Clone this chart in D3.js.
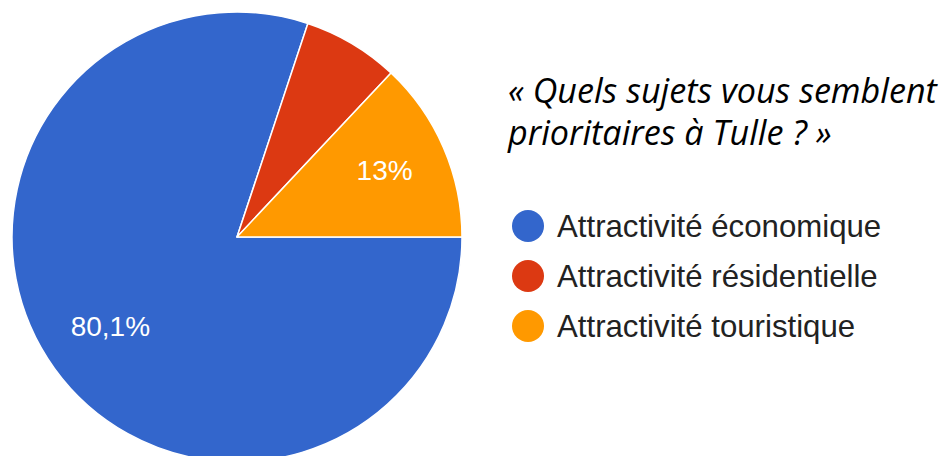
<!DOCTYPE html>
<html>
<head>
<meta charset="utf-8">
<script src="https://cdn.jsdelivr.net/npm/d3@7"></script>
<style>
  html, body { margin: 0; padding: 0; background: #fff; }
  svg { display: block; }
</style>
</head>
<body>
<svg width="946" height="456"></svg>
<script>
const categories = ['Attractivité économique', 'Attractivité résidentielle', 'Attractivité touristique'];
const shares = [80.1, 6.9, 13];
const colours = ['#3366cc', '#dc3912', '#ff9900'];
const titleLines = ['« Quels sujets vous semblent', 'prioritaires à Tulle ? »'];

const svg = d3.select('svg');

const CX = 237;
const CY = 237;
const RADIUS = 225;

const data = categories.map((name, i) => ({ name, value: shares[i], colour: colours[i] }));

// slices run clockwise from 3 o'clock
const pie = d3.pie()
    .value(d => d.value)
    .sort(null)
    .startAngle(Math.PI / 2)
    .endAngle(Math.PI / 2 + 2 * Math.PI);

const arc = d3.arc().innerRadius(0).outerRadius(RADIUS);
const labelArc = d3.arc().innerRadius(RADIUS * 0.705).outerRadius(RADIUS * 0.705);

const arcs = pie(data);

const g = svg.append('g').attr('transform', `translate(${CX},${CY})`);

g.selectAll('path')
    .data(arcs)
    .join('path')
    .attr('d', arc)
    .attr('fill', d => d.data.colour)
    .attr('stroke', '#fff')
    .attr('stroke-width', 1.5)
    .attr('stroke-linejoin', 'round');

const fmtPct = v => String(v).replace('.', ',') + '%';

g.selectAll('text.slice')
    .data(arcs.filter(d => d.endAngle - d.startAngle > 0.5))
    .join('text')
    .attr('class', 'slice')
    .attr('transform', d => `translate(${labelArc.centroid(d)})`)
    .attr('dx', 2)
    .attr('dy', '0.22em')
    .text(d => fmtPct(d.data.value))
    .style('fill', '#fff')
    .style('text-anchor', 'middle')
    .style('font-family', 'Arial, "Liberation Sans", sans-serif')
    .style('font-size', '28px');

// title
const title = svg.selectAll('text.title')
    .data(titleLines)
    .join('text')
    .attr('class', 'title')
    .attr('x', 508)
    .attr('y', (d, i) => 103 + i * 42)
    .text(d => d)
    .style('fill', '#000')
    .style('font-family', '"Open Sans", Lato, sans-serif')
    .style('font-style', 'italic')
    .style('font-size', '30px');

// size the title so the first line spans the same width as in the picture
const firstLen = title.nodes()[0].getComputedTextLength();
title.style('font-size', `${30 * 429 / firstLen}px`);

// legend
const legend = svg.append('g').attr('transform', 'translate(528,226)');
const LEGEND_Y = d3.scaleLinear().domain([0, 1]).range([0, 50]);

const items = legend.selectAll('g')
    .data(data)
    .join('g')
    .attr('transform', (d, i) => `translate(0,${LEGEND_Y(i)})`);

items.append('circle')
    .attr('r', 16)
    .attr('fill', d => d.colour);

items.append('text')
    .attr('x', 29)
    .attr('dy', '0.36em')
    .text(d => d.name)
    .style('fill', '#222')
    .style('font-family', 'Arial, "Liberation Sans", sans-serif')
    .style('font-size', '31.2px');
</script>
</body>
</html>
